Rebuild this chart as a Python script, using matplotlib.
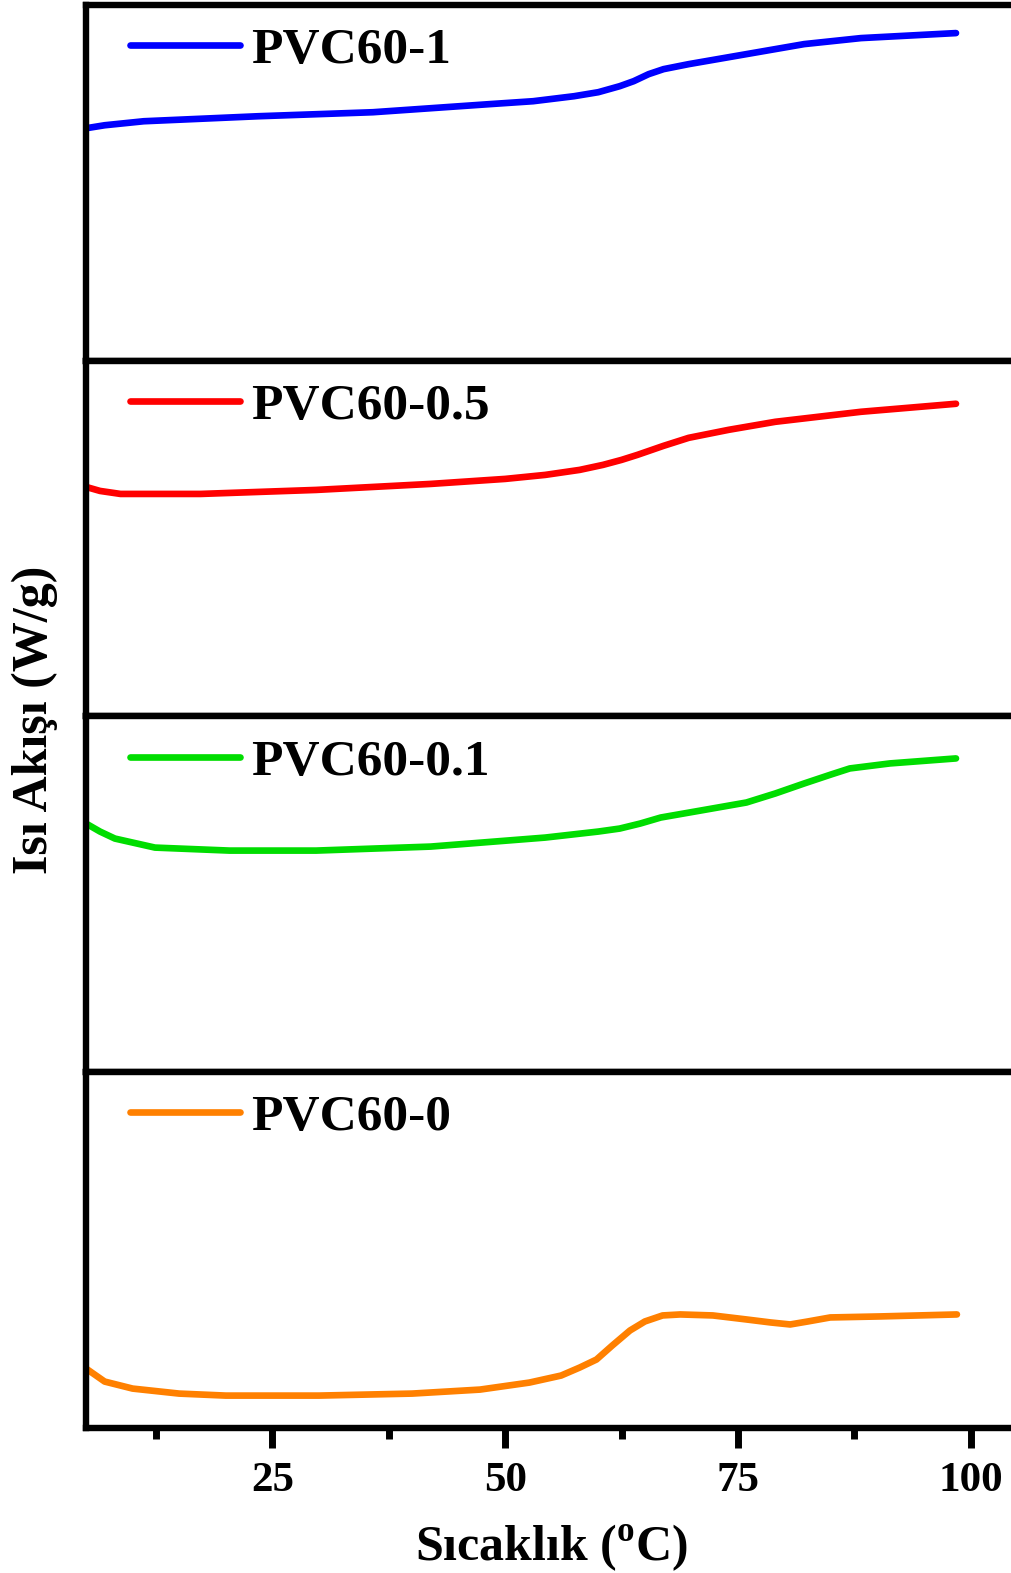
import matplotlib
matplotlib.use("Agg")
import matplotlib.pyplot as plt
from matplotlib.ticker import MultipleLocator

plt.rcParams['font.family'] = ['Liberation Serif', 'DejaVu Serif']
plt.rcParams['font.weight'] = 'bold'
plt.rcParams['mathtext.fontset'] = 'custom'
plt.rcParams['mathtext.rm'] = 'Liberation Serif:bold'
plt.rcParams['mathtext.bf'] = 'Liberation Serif:bold'

# heat flow curves (arbitrary units), top panel first
labels = ["PVC60-1", "PVC60-0.5", "PVC60-0.1", "PVC60-0"]
colors = ["#0000ff", "#ff0000", "#00dd00", "#ff8000"]

t_1 = [5, 7, 11.2, 23.5, 35.8, 48.2, 53, 57.4, 60, 62.3, 63.8, 65.4, 67, 69.7,
       75.9, 82.1, 88.2, 98.4]
hf_1 = [232, 235, 239, 244, 248, 256, 259, 264, 268, 274, 279, 286, 291, 296,
        306, 316, 322, 327]

t_05 = [5, 6.5, 8.7, 17.3, 29.7, 42, 50, 54.3, 58, 60.5, 62.5, 64.2, 67, 69.7,
        74, 79, 88.2, 98.4]
hf_05 = [229, 225, 222, 222, 226, 232, 237, 241, 246, 251, 256, 261, 270, 278,
         286, 294, 304, 312]

t_01 = [5, 6.5, 8.1, 12.4, 20.4, 29.7, 42, 54.3, 60, 62.3, 64.5, 66.7, 71,
        75.9, 79, 82.1, 85, 87, 91.3, 98.4]
hf_01 = [248, 240, 233, 224, 221, 221, 225, 234, 240, 243, 248, 254, 261,
         269, 278, 288, 297, 303, 308, 313]

t_0 = [5, 7, 10, 15, 20, 30, 40, 47.3, 52.6, 56, 58.0, 59.8, 61.5, 63.4, 65,
       66.9, 68.8, 72.3, 75.9, 78.5, 80.6, 82.5, 84.9, 90.2, 98.5]
hf_0 = [59, 46, 39, 34, 32, 32, 34, 38, 45, 52, 60, 68, 82, 97, 106,
        112, 113, 112, 108, 105, 103, 106, 110, 111, 113]

series = [(t_1, hf_1), (t_05, hf_05), (t_01, hf_01), (t_0, hf_0)]

fig = plt.figure(figsize=(10.11, 15.73), dpi=100)

left, right = 0.0851, 1.0064
bottom, top = 0.0924, 0.9968
h = (top - bottom) / 4

axes = []
for i, ((t, hf), lab, col) in enumerate(zip(series, labels, colors)):
    y0 = top - (i + 1) * h
    ax = fig.add_axes([left, y0, right - left, h])
    ax.plot(t, hf, color=col, lw=4.8, solid_capstyle='round',
            solid_joinstyle='round', label=lab)
    ax.set_xlim(5, 105)
    ax.set_ylim(0, 355)
    ax.set_yticks([])
    for s in ax.spines.values():
        s.set_linewidth(4.6)
    leg = ax.legend(loc='upper left', bbox_to_anchor=(0.047, 0.937), frameon=False,
                    fontsize=37, handlelength=2.15, handletextpad=0.2,
                    borderpad=0, borderaxespad=0)
    for txt in leg.get_texts():
        txt.set_fontweight('bold')
    if i < 3:
        ax.set_xticks([])
    axes.append(ax)

ax = axes[-1]
ax.xaxis.set_major_locator(MultipleLocator(25))
ax.xaxis.set_minor_locator(MultipleLocator(12.5))
ax.tick_params(axis='x', which='major', direction='out', length=14.5, width=5,
               labelsize=31, pad=10)
ax.tick_params(axis='x', which='minor', direction='out', length=8, width=5)
for lbl in ax.get_xticklabels():
    lbl.set_fontweight('bold')
ax.set_xlabel(r'Sıcaklık ($^{\mathrm{o}}$C)', fontsize=36, fontweight='bold', labelpad=16)

fig.text(0.034, 0.5423, 'Isı Akışı (W/g)', rotation=90, fontsize=36, fontweight='bold',
         ha='center', va='center')

fig.savefig('out.png', dpi=100)
